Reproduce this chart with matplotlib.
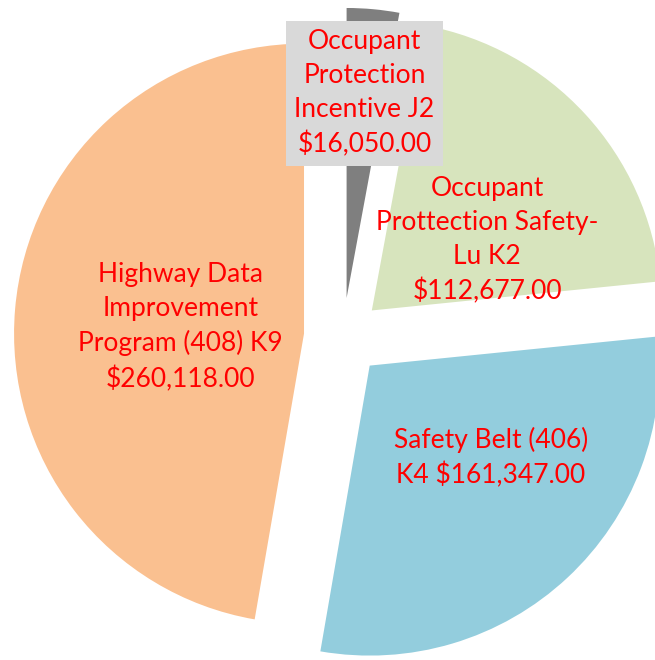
import matplotlib.pyplot as plt

# Data
labels = ['Occupant\nProtection\nIncentive J2\n$16,050.00',
          'Occupant\nProttection Safety-\nLu K2\n$112,677.00',
          'Safety Belt (406)\nK4 $161,347.00',
          'Highway Data\nImprovement\nProgram (408) K9\n$260,118.00']
amounts = [16050, 112677, 161347, 260118]
colors = ['#7F7F7F', '#D7E4BD', '#93CDDD', '#FAC090']

# label centres (in pie units, pie radius = 1)
label_pos = [(0.074, 0.84), (0.497, 0.334), (0.51, -0.417), (-0.56, 0.035)]

fig = plt.figure(figsize=(6.55, 6.6), dpi=100)
ax = fig.add_axes([0, 0, 1, 1])

ax.pie(amounts, colors=colors, startangle=90, counterclock=False,
       explode=[0.135] * 4, radius=1.0,
       wedgeprops={'linewidth': 0})

for i, (lab, (x, y)) in enumerate(zip(labels, label_pos)):
    box = None
    if i == 0:
        box = dict(boxstyle='square,pad=0.3', facecolor='#D9D9D9', edgecolor='none')
    ax.text(x, y, lab, ha='center', va='center', color='#FF0000',
            fontsize=19, family='Lato', linespacing=1.45, bbox=box)

# crop like the original
ax.set_xlim(-1.183, 1.076)
ax.set_ylim(-1.114, 1.162)
ax.set_aspect('auto')
ax.axis('off')

plt.savefig('out.png', dpi=100)
